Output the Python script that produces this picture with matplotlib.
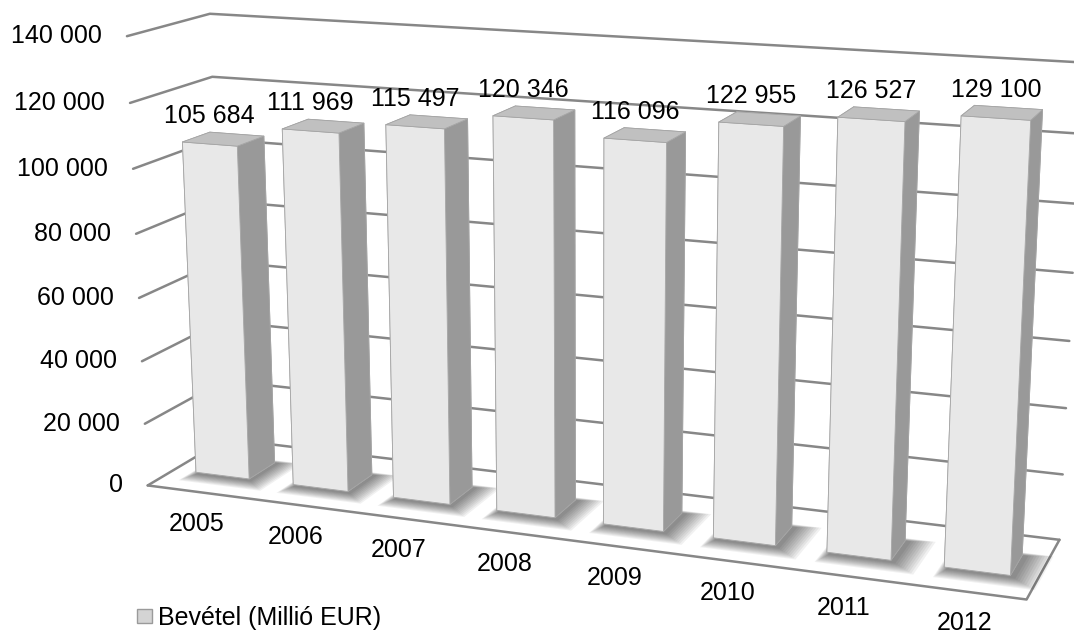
import numpy as np
import matplotlib
matplotlib.use("Agg")
import matplotlib.pyplot as plt
from matplotlib.transforms import IdentityTransform
from matplotlib.patches import Patch
from mpl_toolkits.mplot3d.art3d import Poly3DCollection
from mpl_toolkits.mplot3d import proj3d

plt.rcParams['font.family'] = ['Liberation Sans', 'DejaVu Sans']

# Data
years = ['2005', '2006', '2007', '2008', '2009', '2010', '2011', '2012']
revenue = [105684, 111969, 115497, 120346, 116096, 122955, 126527, 129100]
value_ticks = [0, 20000, 40000, 60000, 80000, 100000, 120000, 140000]
tick_labels = ['0', '20 000', '40 000', '60 000', '80 000', '100 000', '120 000', '140 000']
series_name = 'Bevétel (Millió EUR)'

value_labels = [f"{v:,}".replace(',', ' ') for v in revenue]

n = len(years)
depth = 1.47         # floor depth (category units)
bar_w = 0.55
bar_d = 0.5
height_units = 4.1
zmax = value_ticks[-1]

fig = plt.figure(figsize=(10.74, 6.36), dpi=100)
side = 12.0
W, H = side / 10.74, side / 6.36
cx, cy = 0.5335, 0.5251
ax = fig.add_axes([cx - W / 2, cy - H / 2, W, H], projection='3d',
                  computed_zorder=False)
zoom = 0.858
ax.set_proj_type('persp', focal_length=0.4469 * zoom)
ax.view_init(elev=14.3, azim=-69.5, roll=0)
ax.set_xlim(0, n)
ax.set_ylim(0, depth)
ax.set_zlim(0, zmax)
ax.set_box_aspect((n, depth, height_units), zoom=zoom)
ax.set_axis_off()

grid_kw = dict(color='#878787', lw=1.8, zorder=1, solid_capstyle='round')
# walls: gridlines along left wall and back wall
for v in value_ticks:
    ax.plot([0, 0, n], [0, depth, depth], [v, v, v], **grid_kw)
# floor outline (front and right edges)
ax.plot([0, n, n], [0, 0, depth], [0, 0, 0], **grid_kw)

xc = np.arange(n) + 0.5
y0 = (depth - bar_d) / 2

# soft shadows on the floor
for k in range(10):
    g = 0.022 * (k + 1)
    polys = []
    for x in xc:
        xa, xb = x - bar_w / 2 - g * 0.3 + 0.03, x + bar_w / 2 + g + 0.03
        ya, yb = y0 - g - 0.04, y0 + bar_d + g * 0.3
        polys.append([(xa, ya, 0), (xb, ya, 0), (xb, yb, 0), (xa, yb, 0)])
    ax.add_collection3d(Poly3DCollection(polys, facecolors=(0, 0, 0, 0.055),
                                         edgecolors='none', zorder=2))

# bars: faces (-z, +z, -y, +y, -x, +x)
face_colors = ['#d0d0d0', '#c0c0c0', '#e8e8e8', '#d0d0d0', '#dadada', '#999999'] * n
ax.bar3d(xc - bar_w / 2, np.full(n, y0), np.zeros(n), bar_w, bar_d, revenue,
         color=face_colors, shade=False, edgecolor='#a5a5a5', linewidth=0.6,
         zorder=3)

# labels are placed at projected 3D anchor points (pixel offsets)
fig.canvas.draw()
M = ax.M


def to_px(x, y, z):
    xs, ys, _ = proj3d.proj_transform(x, y, z, M)
    return ax.transData.transform((xs, ys))


def label(x, y, z, s, dx, dy, **kw):
    px, py = to_px(x, y, z)
    fig.text(px + dx, py + dy, s, transform=IdentityTransform(),
             fontsize=18, **kw)


for v, lab in zip(value_ticks, tick_labels):
    label(0, 0, v, lab, -25, 0, ha='right', va='center')

for x, v, lab in zip(xc, revenue, value_labels):
    label(x, y0, v, lab, 0, 21, ha='center', va='baseline')

for x, lab in zip(xc, years):
    label(x, 0, 0, lab, 0, -32, ha='center', va='center')

fig.legend(handles=[Patch(facecolor='#d4d4d4', edgecolor='#9a9a9a')],
           labels=[series_name], loc='center left',
           bbox_to_anchor=(137 / 1074, 1 - 618 / 636), frameon=False,
           fontsize=18, handlelength=0.6, handleheight=0.5, handletextpad=0.25,
           borderpad=0, borderaxespad=0)

fig.savefig('out.png', dpi=100)
